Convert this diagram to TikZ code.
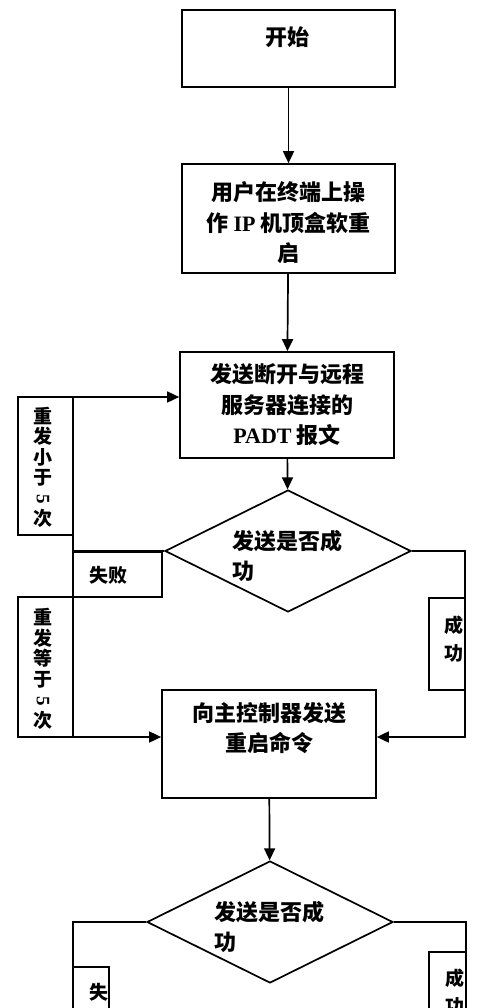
\documentclass[tikz,border=0pt]{standalone}
\usepackage{fontspec}
\usepackage{graphicx}
\usetikzlibrary{shapes.geometric,arrows.meta}
\newfontfamily\cjk{Noto Sans CJK SC}
\newfontfamily\latin{Liberation Serif}

\begin{document}
\begin{tikzpicture}[x=1pt,y=-1pt,
		box/.style={draw,line width=1.7pt,rectangle,inner sep=0pt},
		decision/.style={draw,line width=1.7pt,diamond,inner sep=0pt,minimum width=246,minimum height=122},
		flow/.style={line width=1.7pt,-{Triangle[length=12pt,width=11pt]}},
		link/.style={line width=1.7pt},
		txt/.style={font=\cjk\bfseries\fontsize{22}{30.5}\selectfont,align=center,inner sep=0pt},
		tag/.style={font=\cjk\bfseries\fontsize{19}{20.5}\selectfont,align=center,inner sep=0pt}]

		\useasboundingbox (0,0) rectangle (500,1008);
		\clip (0,0) rectangle (500,1008);
		%\draw[step=50,gray,very thin] (0,0) grid (500,1008);

		\node[box,minimum width=213,minimum height=77] (start) at (288.5,48.5) {};
			\node[txt] (startText) at (287,37) {开始};
		\node[box,minimum width=213,minimum height=109] (user) at (288.5,218.5) {};
			\node[txt] (userText) at (288.5,223) {用户在终端上操\\作 {\latin IP} 机顶盒软重\\启};
		\node[box,minimum width=214,minimum height=106] (send) at (287,405) {};
			\node[txt] (sendText) at (287,405) {发送断开与远程\\服务器连接的\\{\latin PADT} 报文};
		\node[decision] (check) at (288,551) {};
			\node[txt,align=left] (checkText) at (287.5,556) {发送是否成\\功};
		\node[box,minimum width=214,minimum height=108] (reboot) at (269,744) {};
			\node[txt] (rebootText) at (269,728) {向主控制器发送\\重启命令};
		\node[decision] (check2) at (270,922) {};
			\node[txt,align=left] (check2Text) at (269,927) {发送是否成\\功};

		% side tags
		\node[box,minimum width=55,minimum height=138] (retryLess) at (45.5,466) {};
			\node[tag] at (43,467.5) {重\\发\\小\\于\\\rotatebox[origin=c]{-90}{\latin 5}\\次};
		\node[box,minimum width=55,minimum height=140] (retryEqual) at (45.5,667) {};
			\node[tag] at (43,669) {重\\发\\等\\于\\\rotatebox[origin=c]{-90}{\latin 5}\\次};
		\node[box,minimum width=89,minimum height=45] (failTag) at (117.5,574.5) {};
			\node[tag] at (108,575) {失败};
		\node[box,minimum width=36,minimum height=92] (okTag) at (447,644) {};
			\node[tag,font=\cjk\bfseries\fontsize{19}{28}\selectfont] at (454,639) {成\\功};
		\node[box,minimum width=36,minimum height=92] (failTag2) at (91,1013) {};
			\node[tag,font=\cjk\bfseries\fontsize{19}{28}\selectfont] at (99,1006) {失\\败};
		\node[box,minimum width=37,minimum height=92] (okTag2) at (447.5,998) {};
			\node[tag,font=\cjk\bfseries\fontsize{19}{28}\selectfont] at (455,992) {成\\功};

		\coordinate (failTurn) at (73,551);
		\coordinate (retryTop) at (73,397);
		\coordinate (retryEnd) at (73,737);
		\coordinate (okTurn) at (465,551);
		\coordinate (okEnd) at (465,737);
		\coordinate (failTurn2) at (73,922);
		\coordinate (failEnd2) at (73,1030);
		\coordinate (okTurn2) at (466,922);
		\coordinate (okEnd2) at (466,1030);

		\draw[flow] (start) -- (user);
		\draw[flow] (user) -- (send);
		\draw[flow] (send) -- (check);
		\draw[flow] (check.west) -- (failTurn) -- (retryTop) -- (retryTop -| send.west);
		\draw[flow] (failTurn) -- (retryEnd) -- (retryEnd -| reboot.west);
		\draw[flow] (check.east) -- (okTurn) -- (okEnd) -- (okEnd -| reboot.east);
		\draw[flow] (reboot) -- (check2);
		\draw[link] (check2.west) -- (failTurn2) -- (failEnd2);
		\draw[link] (check2.east) -- (okTurn2) -- (okEnd2);

	\end{tikzpicture}
\end{document}
